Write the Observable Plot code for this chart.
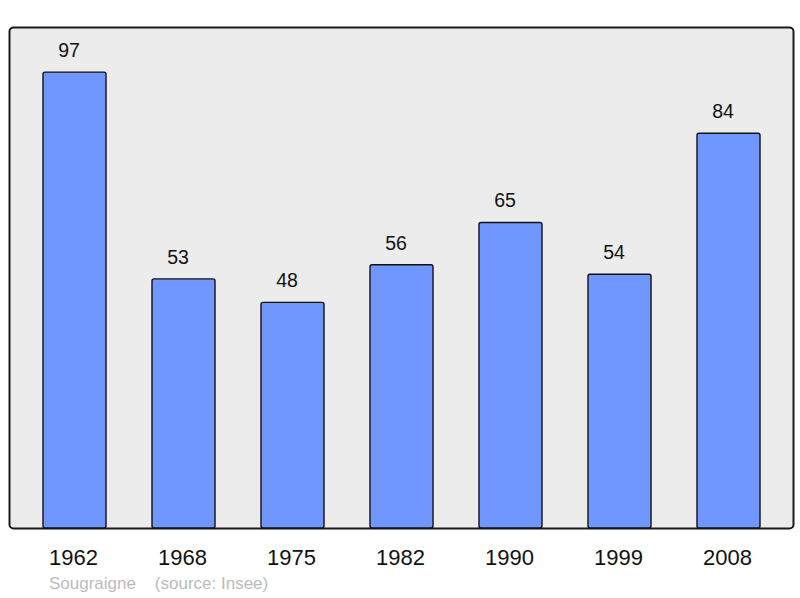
<!DOCTYPE html>
<html>
<head>
<meta charset="utf-8">
<script src="https://cdn.jsdelivr.net/npm/d3@7"></script>
<script src="https://cdn.jsdelivr.net/npm/@observablehq/plot@0.6"></script>
<style>
  body { margin: 0; background: #fff; font-family: "Liberation Sans", Arial, sans-serif; }
  #caption { font-size: 17px; line-height: 20px; color: #bbbbbb; padding-left: 49px; white-space: pre; }
</style>
</head>
<body>
<div id="chart"></div>
<div id="caption">Sougraigne    (source: Insee)</div>
<script>
const years = ["1962", "1968", "1975", "1982", "1990", "1999", "2008"];
const population = [97, 53, 48, 56, 65, 54, 84];

const data = years.map((y, i) => ({year: y, value: population[i]}));

const chart = Plot.plot({
  width: 800,
  height: 574,
  marginLeft: 18,
  marginRight: 15,
  marginTop: 27,
  marginBottom: 46,
  style: {fontFamily: "Liberation Sans, Arial, sans-serif", background: "transparent"},
  x: {domain: years, paddingInner: 0.42, paddingOuter: 0.21, label: null},
  y: {domain: [0, 106.6], axis: null},
  marks: [
    Plot.frame({fill: "#ececec", stroke: "#1a1a1a", strokeWidth: 2, rx: 4, insetLeft: -9, insetRight: -8}),
    Plot.barY(data, {x: "year", y: "value", fill: "#7097ff", stroke: "#111", strokeWidth: 1.4, rx: 2}),
    Plot.text(data, {x: "year", y: "value", text: d => String(d.value), dy: -22, dx: -6, fontSize: 19.5, fill: "#111"}),
    Plot.axisX({tickSize: 0, tickPadding: 21, fontSize: 22, dx: -1.5, color: "#111", label: null})
  ]
});
document.getElementById("chart").appendChild(chart);
</script>
</body>
</html>
